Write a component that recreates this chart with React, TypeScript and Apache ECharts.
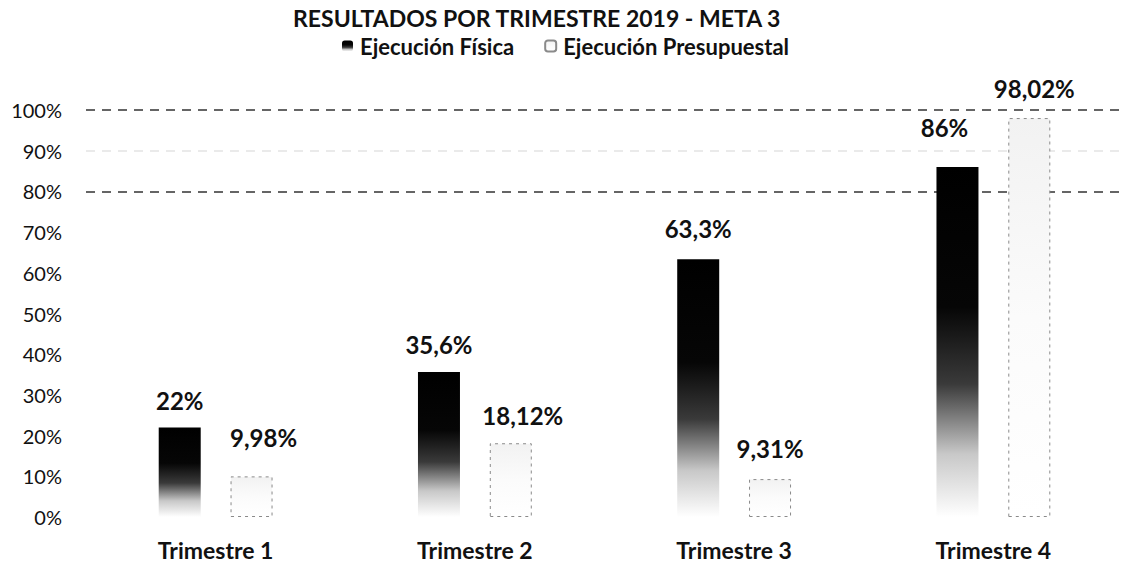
import React, { useEffect, useRef } from "react";
import * as echarts from "echarts";

const categories = ["Trimestre 1", "Trimestre 2", "Trimestre 3", "Trimestre 4"];
const fisica = [22, 35.6, 63.3, 86];
const presupuestal = [9.98, 18.12, 9.31, 98.02];
const fisicaLabels = ["22%", "35,6%", "63,3%", "86%"];
const presupuestalLabels = ["9,98%", "18,12%", "9,31%", "98,02%"];
const seriesNames = ["Ejecución Física", "Ejecución Presupuestal"];
const titleText = "RESULTADOS POR TRIMESTRE 2019 - META 3";

const FONT = "Lato, 'Open Sans', sans-serif";

export default function App() {
  const ref = useRef<HTMLDivElement>(null);

  useEffect(() => {
    if (!ref.current) return;
    const chart = echarts.init(ref.current, undefined, { renderer: "svg" });

    const fisicaOffsets = [[0, -10], [0, -11], [0, -14], [-13, -22]];
    const presOffsets = [[12, -22], [12, -11], [0, -14], [5, -13]];

    const labelBase = {
      show: true,
      position: "top" as const,
      distance: 5,
      fontFamily: FONT,
      fontWeight: "bold" as const,
      fontSize: 24,
      color: "#111",
    };

    const gridColors = [
      "rgba(0,0,0,0)", "rgba(0,0,0,0)", "rgba(0,0,0,0)", "rgba(0,0,0,0)",
      "rgba(0,0,0,0)", "rgba(0,0,0,0)", "rgba(0,0,0,0)", "rgba(0,0,0,0)",
      "#333", "#e4e4e4", "#333",
    ];

    chart.setOption({
      animation: false,
      backgroundColor: "#fff",
      title: {
        text: titleText,
        left: 291,
        top: 3,
        padding: 2,
        textStyle: {
          fontFamily: FONT,
          fontWeight: "bold",
          fontSize: 23,
          lineHeight: 26,
          color: "#111",
        },
      },
      legend: {
        data: seriesNames,
        left: 340,
        top: 33,
        padding: 2,
        itemWidth: 11,
        itemHeight: 11,
        itemGap: 30,
        textStyle: {
          fontFamily: FONT,
          fontWeight: "bold",
          fontSize: 22,
          color: "#111",
          padding: [0, 0, 0, 2],
        },
      },
      grid: { left: 86, top: 110, width: 1051, bottom: 47, containLabel: false },
      xAxis: {
        type: "category",
        data: categories,
        axisLine: { show: false },
        axisTick: { show: false },
        axisLabel: {
          margin: 21,
          fontFamily: FONT,
          fontWeight: "bold",
          fontSize: 23,
          color: "#111",
        },
      },
      yAxis: {
        type: "value",
        min: 0,
        max: 100,
        interval: 10,
        axisLine: { show: false },
        axisTick: { show: false },
        axisLabel: {
          margin: 24,
          formatter: "{value}%",
          fontFamily: FONT,
          fontSize: 20,
          color: "#111",
        },
        splitLine: {
          show: true,
          lineStyle: { color: gridColors, type: [9, 7], width: 1.5 },
        },
      },
      series: [
        {
          name: seriesNames[0],
          type: "bar",
          barWidth: 42,
          barGap: "71%",
          itemStyle: {
            color: new echarts.graphic.LinearGradient(0, 0, 0, 1, [
              { offset: 0, color: "#000" },
              { offset: 0.4, color: "#060606" },
              { offset: 0.62, color: "#3a3a3a" },
              { offset: 0.82, color: "#c8c8c8" },
              { offset: 1, color: "#fff" },
            ]),
          },
          data: fisica.map((v, i) => ({
            value: v,
            label: {
              ...labelBase,
              offset: fisicaOffsets[i],
              formatter: () => fisicaLabels[i],
            },
          })),
        },
        {
          name: seriesNames[1],
          type: "bar",
          barWidth: 42,
          itemStyle: {
            color: new echarts.graphic.LinearGradient(0, 0, 0, 1, [
              { offset: 0, color: "#f2f2f2" },
              { offset: 0.5, color: "#fbfbfb" },
              { offset: 1, color: "#fff" },
            ]),
            borderColor: "#8a8a8a",
            borderWidth: 1,
            borderType: [3, 4],
          },
          data: presupuestal.map((v, i) => ({
            value: v,
            label: {
              ...labelBase,
              offset: presOffsets[i],
              formatter: () => presupuestalLabels[i],
            },
          })),
        },
      ],
    });

    return () => chart.dispose();
  }, []);

  return (
    <div
      ref={ref}
      style={{ position: "fixed", left: 0, top: 0, width: 1123, height: 564, background: "#fff" }}
    />
  );
}
